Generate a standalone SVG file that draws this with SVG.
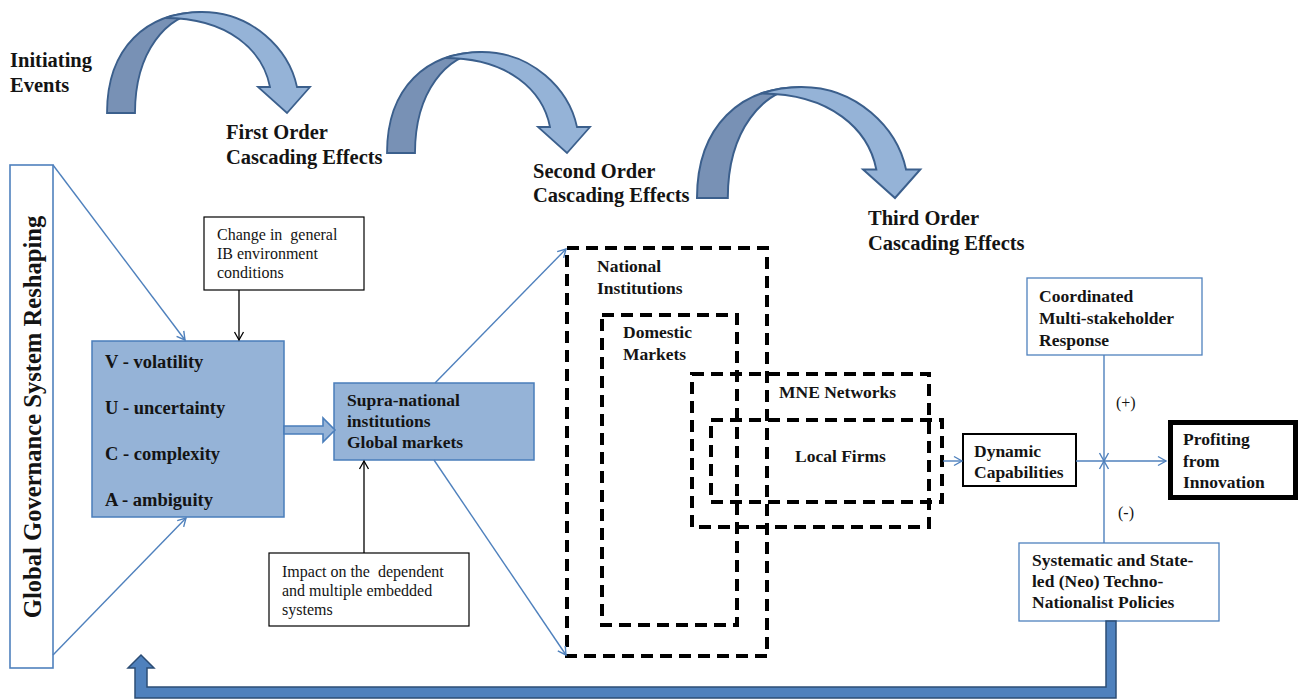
<svg xmlns="http://www.w3.org/2000/svg" width="1301" height="699" viewBox="0 0 1301 699">
<defs>
<style>
text{font-family:"Liberation Serif","Times New Roman",serif;fill:#141414;white-space:pre}
.h{font-size:20.5px;font-weight:bold}
.b{font-size:18.5px;font-weight:bold}
.m{font-size:17.5px;font-weight:bold}
.r{font-size:16px}
.blue{fill:none;stroke:#4f81bd;stroke-width:1.4}
.blk{fill:none;stroke:#000;stroke-width:1.3}
.dash{fill:none;stroke:#000;stroke-width:4;stroke-dasharray:12 7}
.dk{fill:#7891b5;stroke:#3b5f8c;stroke-width:1.8}
.lt{fill:#95b3d7;stroke:#3b5f8c;stroke-width:1.8}
.fillbox{fill:#95b3d7;stroke:#4a7ebb;stroke-width:1.5}
</style>
<marker id="ab" markerWidth="12" markerHeight="12" refX="10" refY="6" orient="auto" markerUnits="userSpaceOnUse">
<path d="M2,1.5 L10,6 L2,10.5" fill="none" stroke="#4f81bd" stroke-width="1.4"/>
</marker>
<marker id="ak" markerWidth="12" markerHeight="12" refX="10" refY="6" orient="auto" markerUnits="userSpaceOnUse">
<path d="M2,1.5 L10,6 L2,10.5" fill="none" stroke="#000" stroke-width="1.3"/>
</marker>
<g id="curv">
<path class="dk" d="M0,0 C0,-66 40,-101 95,-101 C60,-98 28,-62 28,0 Z"/>
<path class="lt" d="M58,-95 C70,-99 82,-101 95,-101 C145,-101 182,-64 190,-26 L203,-26 L180,0 L151,-26 L163,-26 C156,-62 122,-95 58,-95 Z"/>
</g>
</defs>
<rect width="1301" height="699" fill="#fff"/>

<g id="cascade-arrows">
<use href="#curv" transform="translate(107,113)"/>
<use href="#curv" transform="translate(387,153)"/>
<use href="#curv" transform="translate(697,198) scale(1.1)"/>
</g>

<g id="labels">
<text class="h" x="10" y="67">Initiating</text>
<text class="h" x="10" y="92">Events</text>
<text class="h" x="226" y="139">First Order</text>
<text class="h" x="226" y="164">Cascading Effects</text>
<text class="h" x="533" y="178">Second Order</text>
<text class="h" x="533" y="202">Cascading Effects</text>
<text class="h" x="868" y="225">Third Order</text>
<text class="h" x="868" y="250">Cascading Effects</text>
</g>

<g id="global-governance">
<rect x="10" y="165" width="43" height="503" fill="#fff" stroke="#4f81bd" stroke-width="1.6"/>
<text transform="translate(41,417) rotate(-90)" text-anchor="middle" style="font-size:24.6px;font-weight:bold">Global Governance System Reshaping</text>
</g>

<g id="vuca">
<rect class="fillbox" x="92" y="341" width="192" height="176"/>
<text class="b" x="105" y="368">V - volatility</text>
<text class="b" x="105" y="414">U - uncertainty</text>
<text class="b" x="105" y="460">C - complexity</text>
<text class="b" x="105" y="506">A - ambiguity</text>
</g>

<g id="change-ib">
<rect x="204" y="217" width="160" height="73" fill="#fff" stroke="#000" stroke-width="1.2"/>
<text class="r" x="217" y="240">Change in  general</text>
<text class="r" x="217" y="259">IB environment</text>
<text class="r" x="217" y="278">conditions</text>
</g>

<g id="supra">
<rect class="fillbox" x="334" y="383" width="200" height="77"/>
<text class="m" x="347" y="406">Supra-national</text>
<text class="m" x="347" y="427">institutions</text>
<text class="m" x="347" y="448">Global markets</text>
</g>

<g id="impact">
<rect x="269" y="553" width="200" height="73" fill="#fff" stroke="#000" stroke-width="1.2"/>
<text class="r" x="282" y="577">Impact on the  dependent</text>
<text class="r" x="282" y="596">and multiple embedded</text>
<text class="r" x="282" y="615">systems</text>
</g>

<g id="national-institutions">
<rect class="dash" x="567" y="248" width="200" height="408"/>
<text class="m" x="597" y="272">National</text>
<text class="m" x="597" y="294">Institutions</text>
</g>

<g id="domestic-markets">
<rect class="dash" x="602" y="315" width="135" height="310"/>
<text class="m" x="623" y="338">Domestic</text>
<text class="m" x="623" y="360">Markets</text>
</g>

<g id="mne-networks">
<rect class="dash" x="692" y="374" width="237" height="153"/>
<text class="m" x="779" y="398">MNE Networks</text>
</g>

<g id="local-firms">
<rect class="dash" x="711" y="420" width="231" height="82"/>
<text class="m" x="795" y="462">Local Firms</text>
</g>

<g id="dynamic-capabilities">
<rect x="963" y="434" width="113" height="52" fill="#fff" stroke="#000" stroke-width="2"/>
<text class="m" x="974" y="457">Dynamic</text>
<text class="m" x="974" y="478">Capabilities</text>
</g>

<g id="coordinated">
<rect x="1027" y="278" width="175" height="77" fill="#fff" stroke="#4f81bd" stroke-width="1.3"/>
<text class="m" x="1039" y="302">Coordinated</text>
<text class="m" x="1039" y="324">Multi-stakeholder</text>
<text class="m" x="1039" y="346">Response</text>
</g>

<g id="profiting">
<rect x="1170.5" y="422.5" width="125" height="75" fill="#fff" stroke="#000" stroke-width="5"/>
<text class="m" x="1183" y="445">Profiting</text>
<text class="m" x="1183" y="467">from</text>
<text class="m" x="1183" y="488">Innovation</text>
</g>

<g id="systematic">
<rect x="1019" y="543" width="200" height="78" fill="#fff" stroke="#4f81bd" stroke-width="1.3"/>
<text class="m" x="1032" y="566">Systematic and State-</text>
<text class="m" x="1032" y="587">led (Neo) Techno-</text>
<text class="m" x="1032" y="608">Nationalist Policies</text>
</g>

<g id="connectors">
<line class="blue" x1="53" y1="165" x2="185" y2="340" marker-end="url(#ab)"/>
<line class="blue" x1="53" y1="655" x2="186" y2="518" marker-end="url(#ab)"/>
<line class="blk" x1="239" y1="290" x2="239" y2="340" marker-end="url(#ak)"/>
<line class="blk" x1="364" y1="553" x2="364" y2="461" marker-end="url(#ak)"/>
<path d="M284,426 L323,426 L323,418 L335,430 L323,442 L323,434 L284,434 Z" fill="#95b3d7" stroke="#4a7ebb" stroke-width="1.6"/>
<line class="blue" x1="435" y1="383" x2="566" y2="249" marker-end="url(#ab)"/>
<line class="blue" x1="434" y1="460" x2="566" y2="655" marker-end="url(#ab)"/>
<line class="blue" x1="943" y1="461" x2="962" y2="461" marker-end="url(#ab)"/>
<line class="blue" x1="1076" y1="461" x2="1166" y2="461" marker-end="url(#ab)"/>
<line class="blue" x1="1104" y1="355" x2="1104" y2="461" marker-end="url(#ab)"/>
<line class="blue" x1="1104" y1="543" x2="1104" y2="461" marker-end="url(#ab)"/>
<text x="1116" y="408" style="font-size:16px">(+)</text>
<text x="1118" y="518" style="font-size:16px">(-)</text>
<path d="M1116,621 L1116,698 L135,698 L135,668 L128,668 L141,655 L154,668 L147,668 L147,687 L1106,687 L1106,621 Z" fill="#4f81bd" stroke="#2c4d75" stroke-width="1.5"/>
</g>
</svg>
